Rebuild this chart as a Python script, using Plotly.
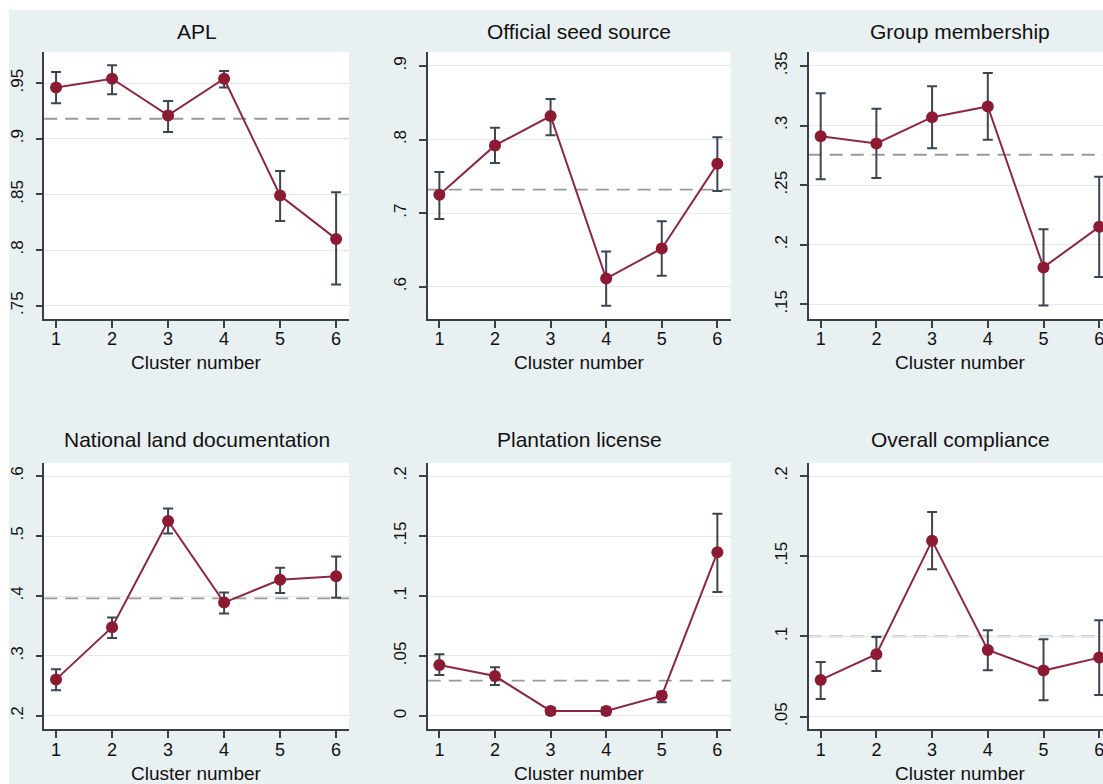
import plotly.graph_objects as go

# Cluster means with 95% confidence bounds and the overall sample mean
clusters = [1, 2, 3, 4, 5, 6]

apl_mean = [0.946, 0.954, 0.921, 0.954, 0.849, 0.810]
apl_lo = [0.932, 0.940, 0.906, 0.946, 0.826, 0.769]
apl_hi = [0.960, 0.966, 0.934, 0.961, 0.871, 0.852]
apl_avg = 0.918

seed_mean = [0.725, 0.792, 0.832, 0.611, 0.652, 0.767]
seed_lo = [0.692, 0.768, 0.806, 0.574, 0.615, 0.730]
seed_hi = [0.756, 0.816, 0.855, 0.648, 0.689, 0.803]
seed_avg = 0.732

group_mean = [0.291, 0.285, 0.307, 0.316, 0.181, 0.215]
group_lo = [0.255, 0.256, 0.281, 0.288, 0.149, 0.173]
group_hi = [0.327, 0.314, 0.333, 0.344, 0.213, 0.257]
group_avg = 0.2755

land_mean = [0.261, 0.348, 0.525, 0.389, 0.427, 0.433]
land_lo = [0.243, 0.330, 0.504, 0.371, 0.405, 0.397]
land_hi = [0.278, 0.364, 0.546, 0.406, 0.447, 0.466]
land_avg = 0.396

license_mean = [0.0425, 0.0333, 0.0042, 0.0042, 0.0169, 0.1364]
license_lo = [0.0342, 0.0258, 0.0015, 0.0015, 0.0114, 0.1033]
license_hi = [0.0514, 0.0406, 0.0070, 0.0070, 0.0203, 0.1686]
license_avg = 0.0294

overall_mean = [0.0729, 0.0889, 0.1597, 0.0916, 0.0787, 0.0868]
overall_lo = [0.0610, 0.0785, 0.1419, 0.0789, 0.0602, 0.0635]
overall_hi = [0.0841, 0.0997, 0.1776, 0.1039, 0.0983, 0.1101]
overall_avg = 0.100

titles = ["APL", "Official seed source", "Group membership",
          "National land documentation", "Plantation license", "Overall compliance"]

ytick_vals = [
    [0.75, 0.80, 0.85, 0.90, 0.95],
    [0.6, 0.7, 0.8, 0.9],
    [0.15, 0.20, 0.25, 0.30, 0.35],
    [0.2, 0.3, 0.4, 0.5, 0.6],
    [0.0, 0.05, 0.10, 0.15, 0.20],
    [0.05, 0.10, 0.15, 0.20],
]
ytick_text = [
    [".75", ".8", ".85", ".9", ".95"],
    [".6", ".7", ".8", ".9"],
    [".15", ".2", ".25", ".3", ".35"],
    [".2", ".3", ".4", ".5", ".6"],
    ["0", ".05", ".1", ".15", ".2"],
    [".05", ".1", ".15", ".2"],
]

panels = [
    (apl_mean, apl_lo, apl_hi, apl_avg),
    (seed_mean, seed_lo, seed_hi, seed_avg),
    (group_mean, group_lo, group_hi, group_avg),
    (land_mean, land_lo, land_hi, land_avg),
    (license_mean, license_lo, license_hi, license_avg),
    (overall_mean, overall_lo, overall_hi, overall_avg),
]

# ---- layout geometry (pixels) ----
W, H = 1103, 784
col_px = [(44.3, 349.0), (427.7, 730.7), (808.7, 1103.0)]
row_px = [(52.0, 319.0), (462.7, 729.3)]
x_ranges = [(0.79, 6.23), (0.79, 6.24), (0.785, 6.068)]
y_ranges = [(0.738, 0.978), (0.5561, 0.919), (0.1377, 0.3617),
            (0.1778, 0.6222), (-0.0111, 0.2111), (0.0421, 0.2083)]
title_cx = [196.7, 579.2, 960.0]
title_cy = [31.0, 440.0]
xtitle_cy = [362.5, 773.5]

BG = "#e9f0f2"
AXIS = "#3a3f47"
GRID = "#e6e9eb"
MARKER = "#8c1a33"
LINE = "#8a2846"
ERR = "#3d4552"
DASH = "#999999"
FONT = "Liberation Sans, Arial, Helvetica, sans-serif"

fig = go.Figure()
layout = dict(
    width=W, height=H,
    margin=dict(l=0, r=0, t=0, b=0),
    paper_bgcolor=BG,
    plot_bgcolor="white",
    showlegend=False,
    font=dict(family=FONT, color="#111111"),
)

annotations = []
shapes = []

# white border strips along the top and left edges
shapes.append(dict(type="rect", xref="paper", yref="paper",
                   x0=0, x1=1, y0=1 - 10 / H, y1=1,
                   fillcolor="white", line=dict(width=0), layer="below"))
shapes.append(dict(type="rect", xref="paper", yref="paper",
                   x0=0, x1=9 / W, y0=0, y1=1,
                   fillcolor="white", line=dict(width=0), layer="below"))

for i, (mean, lo, hi, avg) in enumerate(panels):
    r, c = divmod(i, 3)
    n = "" if i == 0 else str(i + 1)
    xname, yname = "x" + n, "y" + n

    x0, x1 = col_px[c]
    top, bot = row_px[r]

    layout["xaxis" + n] = dict(
        domain=[x0 / W, x1 / W], anchor=yname,
        range=list(x_ranges[c]),
        tickvals=clusters, ticktext=[str(v) for v in clusters],
        ticks="outside", ticklen=7, tickwidth=1.5, tickcolor=AXIS,
        showline=True, linecolor=AXIS, linewidth=1.5,
        showgrid=False, zeroline=False,
        tickfont=dict(size=18, family=FONT, color="#111111"),
        ticklabeloverflow="allow",
        ticklabelstandoff=-4,
    )
    layout["yaxis" + n] = dict(
        domain=[1 - bot / H, 1 - top / H], anchor=xname,
        range=list(y_ranges[i]),
        tickvals=ytick_vals[i], ticktext=ytick_text[i],
        tickangle=-90,
        ticks="outside", ticklen=7, tickwidth=1.5, tickcolor=AXIS,
        showline=True, linecolor=AXIS, linewidth=1.5,
        showgrid=True, gridcolor=GRID, gridwidth=1, zeroline=False,
        tickfont=dict(size=17, family=FONT, color="#111111"),
        ticklabelstandoff=6,
    )

    # overall mean reference line
    shapes.append(dict(type="line", xref=xname + " domain", yref=yname,
                       x0=0, x1=1, y0=avg, y1=avg,
                       line=dict(color=DASH, width=1.8, dash="13px,8px"),
                       layer="below"))

    fig.add_trace(go.Scatter(
        x=clusters, y=mean, xaxis=xname, yaxis=yname,
        mode="lines+markers",
        line=dict(color=LINE, width=2),
        marker=dict(color=MARKER, size=12, line=dict(width=0)),
        error_y=dict(type="data", symmetric=False,
                     array=[h - m for h, m in zip(hi, mean)],
                     arrayminus=[m - l for m, l in zip(mean, lo)],
                     color=ERR, thickness=2, width=5),
        hoverinfo="x+y",
    ))

    annotations.append(dict(text=titles[i], xref="paper", yref="paper",
                            x=title_cx[c] / W, y=1 - title_cy[r] / H,
                            xanchor="center", yanchor="middle", showarrow=False,
                            font=dict(size=21, family=FONT, color="#111111")))
    annotations.append(dict(text="Cluster number", xref="paper", yref="paper",
                            x=title_cx[c] / W, y=1 - xtitle_cy[r] / H,
                            xanchor="center", yanchor="middle", showarrow=False,
                            font=dict(size=19, family=FONT, color="#111111")))

layout["annotations"] = annotations
layout["shapes"] = shapes
fig.update_layout(**layout)

fig.write_html("out.html")
